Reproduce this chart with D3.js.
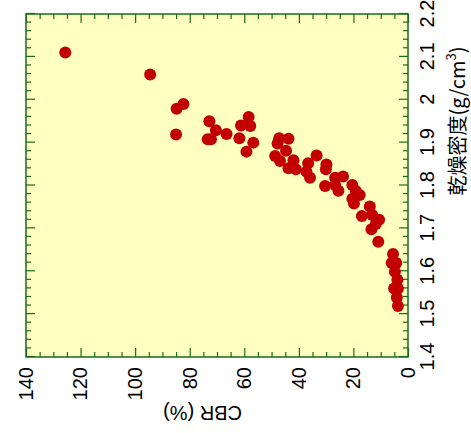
<!DOCTYPE html>
<html>
<head>
<meta charset="utf-8">
<script src="https://cdn.jsdelivr.net/npm/d3@7"></script>
<style>
  html, body { margin: 0; padding: 0; background: #ffffff; }
  svg { display: block; }
</style>
</head>
<body>
<svg id="chart" width="471" height="433"></svg>
<script>
// ---- data ----
const cbr = [125.6, 94.5, 82.3, 84.8, 85.0, 72.8, 70.4, 73.4, 72.2, 66.5,
  58.4, 61.2, 57.8, 61.8, 56.7, 59.2, 47.2, 43.8, 47.8, 44.7,
  48.7, 46.9, 42.0, 43.8, 41.1, 36.6, 37.2, 35.9, 33.5, 29.9,
  30.1, 26.7, 23.8, 30.4, 26.7, 25.5, 20.4, 19.1, 17.7, 20.4,
  19.8, 14.0, 16.9, 13.1, 10.6, 11.8, 13.4, 10.9, 5.5, 6.0,
  4.3, 4.8, 3.9, 5.1, 3.7, 4.1, 3.7];
const density = [2.110, 2.059, 1.990, 1.979, 1.919, 1.950, 1.929, 1.908, 1.908, 1.920,
  1.960, 1.940, 1.939, 1.910, 1.900, 1.879, 1.910, 1.909, 1.898, 1.881,
  1.869, 1.857, 1.859, 1.840, 1.838, 1.852, 1.832, 1.818, 1.870, 1.849,
  1.838, 1.818, 1.821, 1.799, 1.801, 1.788, 1.801, 1.787, 1.778, 1.769,
  1.758, 1.751, 1.729, 1.731, 1.720, 1.710, 1.698, 1.669, 1.640, 1.619,
  1.619, 1.599, 1.580, 1.560, 1.560, 1.539, 1.519];

const densityTicks = [1.4, 1.5, 1.6, 1.7, 1.8, 1.9, 2.0, 2.1, 2.2];
const densityTickLabels = ["1.4", "1.5", "1.6", "1.7", "1.8", "1.9", "2", "2.1", "2.2"];
const cbrTicks = [0, 20, 40, 60, 80, 100, 120, 140];
const cbrTickLabels = ["0", "20", "40", "60", "80", "100", "120", "140"];
const densityTitle = "乾燥密度(g/cm";
const densitySup = "3";
const cbrTitle = "CBR (%)";

// ---- layout: chart drawn in its natural orientation, then turned 90° CCW ----
const plotW = 343; // density axis length
const plotH = 382; // CBR axis length
const green = "#1a6b1a";
const fontNum = "'Liberation Sans', Arial, sans-serif";

const svg = d3.select("#chart");
const g = svg.append("g").attr("transform", "translate(26,357) rotate(-90)");

const x = d3.scaleLinear().domain([1.4, 2.2]).range([0, plotW]);
const y = d3.scaleLinear().domain([0, 140]).range([plotH, 0]);

// background
g.append("rect").attr("x", 0).attr("y", 0).attr("width", plotW).attr("height", plotH)
  .attr("fill", "#ffffc2");

const minorD = d3.range(0, 41).map(i => 1.4 + i * 0.02).filter(v => !densityTicks.some(t => Math.abs(t - v) < 1e-6));
const minorC = d3.range(0, 29).map(i => i * 5).filter(v => v % 20 !== 0);

function styleAxis(sel) {
  sel.select(".domain").remove();
  sel.selectAll(".tick line").attr("stroke", green).attr("stroke-width", 1.2);
}

// bottom (density) major with labels
g.append("g").attr("transform", `translate(0,${plotH})`)
  .call(d3.axisBottom(x).tickValues(densityTicks).tickSize(-9).tickPadding(12)
    .tickFormat((d, i) => densityTickLabels[i]))
  .call(styleAxis)
  .call(s => s.selectAll("text").attr("font-family", fontNum).attr("font-size", 20).attr("fill", "#000"));
g.append("g").attr("transform", `translate(0,${plotH})`)
  .call(d3.axisBottom(x).tickValues(minorD).tickSize(-5).tickFormat(""))
  .call(styleAxis);
// top mirror
g.append("g")
  .call(d3.axisTop(x).tickValues(densityTicks).tickSize(-9).tickFormat(""))
  .call(styleAxis);
g.append("g")
  .call(d3.axisTop(x).tickValues(minorD).tickSize(-5).tickFormat(""))
  .call(styleAxis);

// left (CBR) major with labels
g.append("g")
  .call(d3.axisLeft(y).tickValues(cbrTicks).tickSize(-9).tickPadding(10)
    .tickFormat((d, i) => cbrTickLabels[i]))
  .call(styleAxis)
  .call(s => s.selectAll("text").attr("font-family", fontNum).attr("font-size", 20).attr("fill", "#000"));
g.append("g")
  .call(d3.axisLeft(y).tickValues(minorC).tickSize(-5).tickFormat(""))
  .call(styleAxis);
// right mirror
g.append("g").attr("transform", `translate(${plotW},0)`)
  .call(d3.axisRight(y).tickValues(cbrTicks).tickSize(-9).tickFormat(""))
  .call(styleAxis);
g.append("g").attr("transform", `translate(${plotW},0)`)
  .call(d3.axisRight(y).tickValues(minorC).tickSize(-5).tickFormat(""))
  .call(styleAxis);

// frame
g.append("rect").attr("x", 0).attr("y", 0).attr("width", plotW).attr("height", plotH)
  .attr("fill", "none").attr("stroke", green).attr("stroke-width", 1.5);

// points
g.append("g").selectAll("circle")
  .data(cbr.map((c, i) => ({ c, d: density[i] })))
  .join("circle")
  .attr("cx", p => x(p.d))
  .attr("cy", p => y(p.c))
  .attr("r", 6)
  .attr("fill", "#c20000");

// density title (below x axis in local frame)
const t1 = g.append("text")
  .attr("x", 236).attr("y", plotH + 57)
  .attr("text-anchor", "middle")
  .attr("font-family", "'Noto Sans CJK JP', 'Liberation Sans', sans-serif")
  .attr("font-size", 20).attr("fill", "#000");
t1.append("tspan").text(densityTitle);
t1.append("tspan").attr("font-size", 13).attr("dy", -9).text(densitySup);
t1.append("tspan").attr("dy", 9).text(")");

// CBR title (left of y axis, rotated)
g.append("text")
  .attr("transform", `translate(-49,${176.5}) rotate(-90)`)
  .attr("text-anchor", "middle")
  .attr("font-family", fontNum)
  .attr("font-size", 20).attr("fill", "#000")
  .text(cbrTitle);
</script>
</body>
</html>
